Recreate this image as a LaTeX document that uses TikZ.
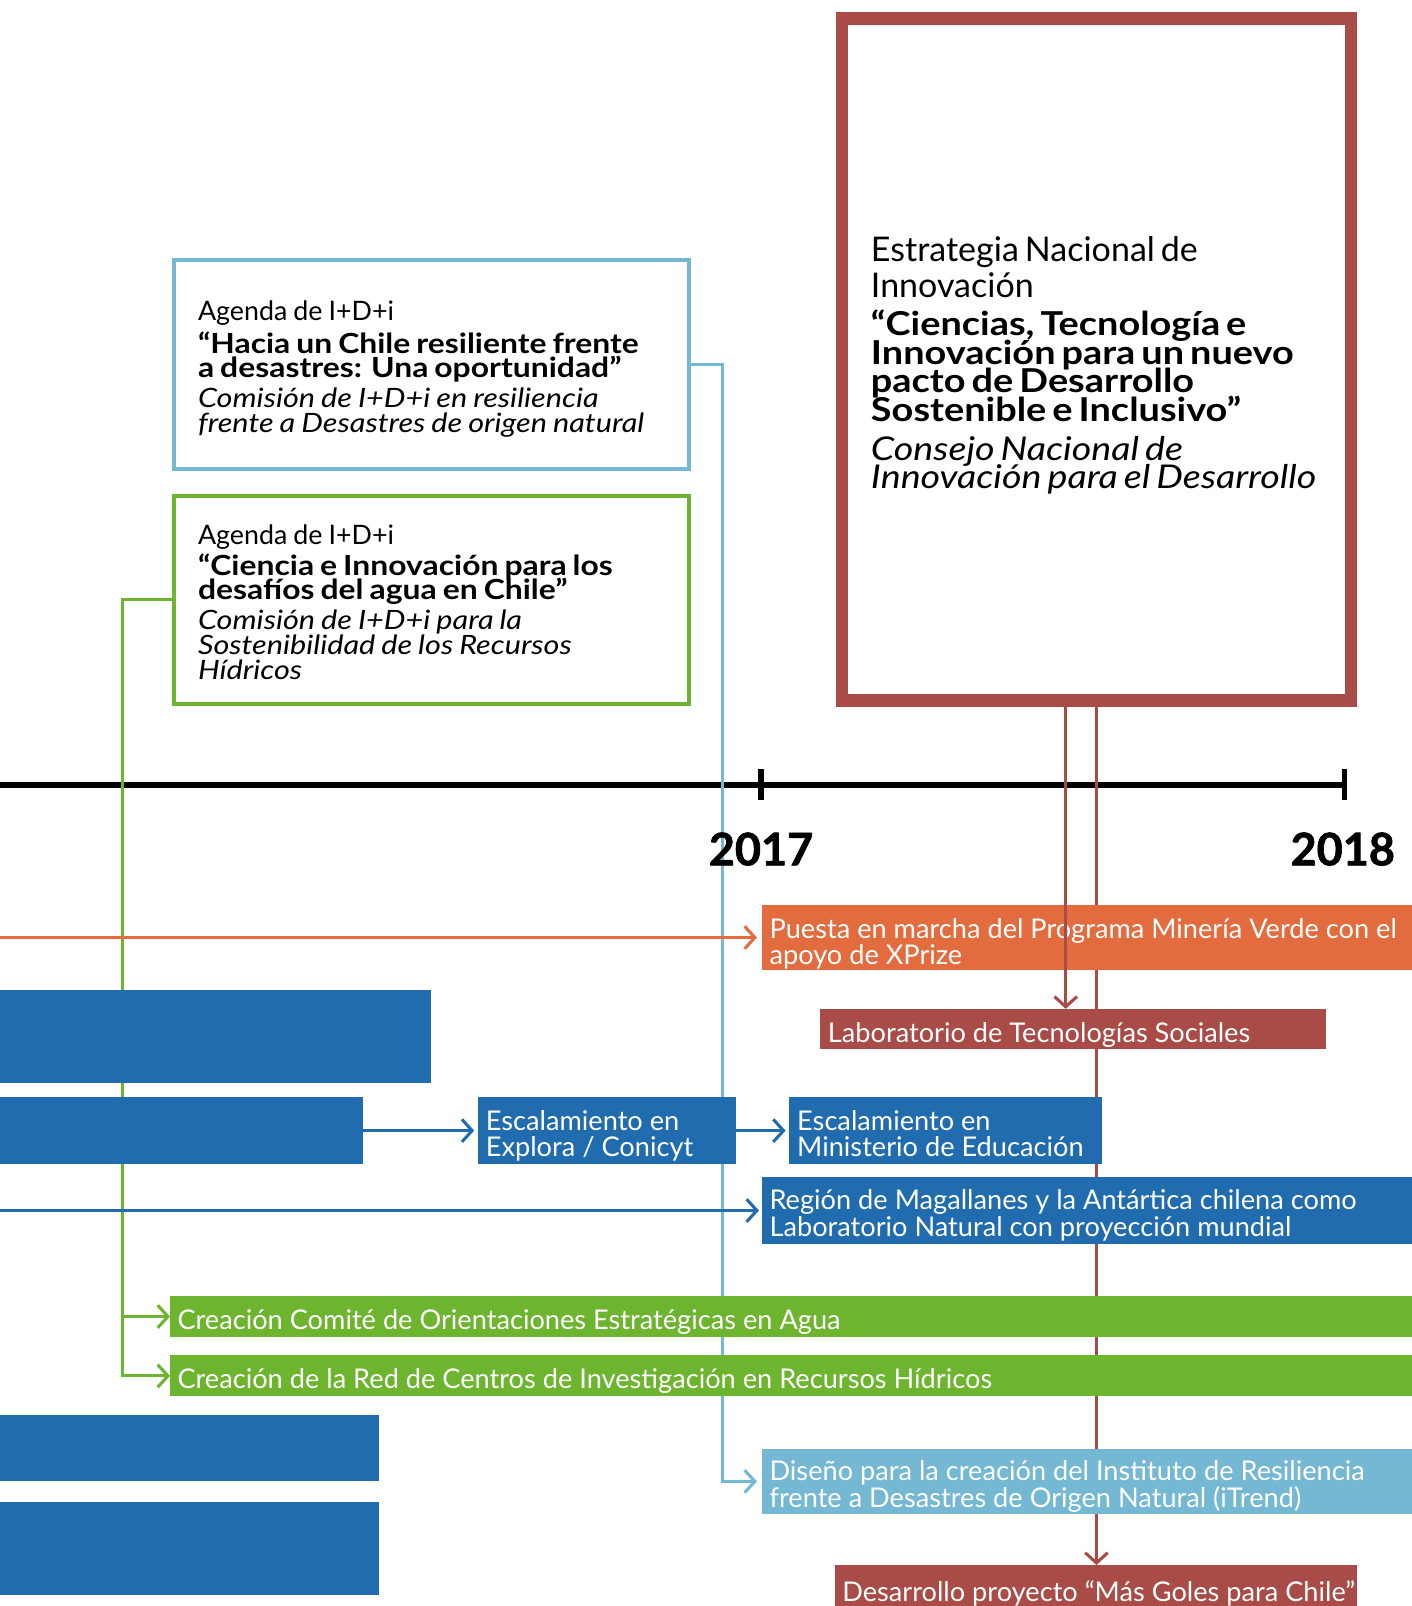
\documentclass[tikz,border=0pt]{standalone}
\usepackage{fontspec}
\setmainfont{Lato}
\newfontfamily\widefont{Lato}[FakeStretch=1.15]
\newfontfamily\yearfont{Lato}[BoldFeatures={FakeBold=1.5}]
\usetikzlibrary{arrows.meta,positioning,backgrounds}
\definecolor{resblue}{RGB}{116,184,212}
\definecolor{aguagreen}{RGB}{109,181,47}
\definecolor{cnidred}{RGB}{169,75,70}
\definecolor{mineorange}{RGB}{227,108,63}
\definecolor{edublue}{RGB}{32,108,174}
\lineskiplimit=-16000pt
\normallineskiplimit=-16000pt
\begin{document}
\begin{tikzpicture}[x=0.02cm, y=-0.02cm, line join=round,
    >={Straight Barb[length=0.2cm,width=0.44cm]},
    conn/.style={->, draw=#1, line width=0.06cm},
    agendaframe/.style={draw=#1, line width=0.08cm, line join=miter, fill=white, inner sep=0pt},
    agenda/.style={anchor=west, inner sep=0pt, text width=10cm, align=left},
    tlbar/.style={fill=#1, inner sep=0pt, anchor=north west},
    bartext/.style={anchor=west, inner sep=0pt, align=left, text=white, font=\fontsize{15.1}{14.8}\selectfont},
    yearlabel/.style={inner sep=0pt, font=\yearfont\bfseries\fontsize{25}{25}\selectfont}]
    \def\upx{0.02cm}
    \useasboundingbox (0,0) rectangle (1378,1568);
    \coordinate (edgeL) at (-10,0);
    % timeline
    \coordinate (t17) at (743,766);
    \coordinate (t18) at (1313,766);
    \node[yearlabel] (y17) at (743,829) {2017};
    \node[yearlabel] (y18) at (1311,829) {2018};
    % agendas
    \node[agendaframe=resblue, minimum width=503*\upx, minimum height=204*\upx] (resil) at (421.5,356) {};
    \node[agenda] (resilT) at ([xshift=25*\upx, yshift=-4.5*\upx]resil.west) {%
        {\fontsize{14.9}{14}\selectfont Agenda de I+D+i\par}\vspace{5.1pt}
        {\widefont\bfseries\fontsize{15.4}{13.1}\selectfont “Hacia un Chile resiliente frente\\a desastres: Una oportunidad”\par}\vspace{3.4pt}
        {\widefont\itshape\fontsize{14.8}{13.7}\selectfont Comisión de I+D+i en resiliencia\\frente a Desastres de origen natural\par}};
    \node[agendaframe=aguagreen, minimum width=503*\upx, minimum height=203*\upx] (agua) at (421.5,585.5) {};
    \node[agenda] (aguaT) at ([xshift=25*\upx, yshift=-2.5*\upx]agua.west) {%
        {\fontsize{14.9}{14}\selectfont Agenda de I+D+i\par}\vspace{4pt}
        {\widefont\bfseries\fontsize{15.4}{13.1}\selectfont “Ciencia e Innovación para los\\desafíos del agua en Chile”\par}\vspace{3.4pt}
        {\widefont\itshape\fontsize{14.8}{13.7}\selectfont Comisión de I+D+i para la\\Sostenibilidad de los Recursos\\Hídricos\par}};
    % estrategia
    \node[agendaframe=cnidred, line width=12*\upx, minimum width=497*\upx, minimum height=666*\upx] (enid) at (1070.5,351) {};
    \node[agenda] (enidT) at ([xshift=34*\upx, yshift=-6*\upx]enid.west) {%
        {\fontsize{18.9}{19.9}\selectfont Estrategia Nacional de\\Innovación\par}\vspace{5.1pt}
        {\widefont\bfseries\fontsize{18.3}{15.9}\selectfont “Ciencias, Tecnología e\\Innovación para un nuevo\\pacto de Desarrollo\\Sostenible e Inclusivo”\par}\vspace{5.7pt}
        {\widefont\itshape\fontsize{18.2}{15.9}\selectfont Consejo Nacional de\\Innovación para el Desarrollo\par}};
    % bars
    \node[tlbar=mineorange, minimum width=660*\upx, minimum height=64*\upx] (xprize) at (744,883) {};
    \node[bartext] (xprizeT) at ([xshift=7*\upx, yshift=-6*\upx]xprize.west) {Puesta en marcha del Programa Minería Verde con el\\apoyo de XPrize};
    \node[tlbar=cnidred, minimum width=494*\upx, minimum height=39*\upx] (labsoc) at (800,985) {};
    \node[bartext] (labsocT) at ([xshift=8*\upx, yshift=-6*\upx]labsoc.west) {Laboratorio de Tecnologías Sociales};
    \node[tlbar=edublue, minimum width=420*\upx, minimum height=91*\upx] (prog1) at (0,966) {};
    \node[tlbar=edublue, minimum width=354*\upx, minimum height=65*\upx] (prog2) at (0,1071) {};
    \node[tlbar=edublue, minimum width=252*\upx, minimum height=65*\upx] (explora) at (466,1071) {};
    \node[bartext] (exploraT) at ([xshift=8*\upx, yshift=-5*\upx]explora.west) {Escalamiento en\\Explora / Conicyt};
    \node[tlbar=edublue, minimum width=306*\upx, minimum height=65*\upx] (mineduc) at (770,1071) {};
    \node[bartext] (mineducT) at ([xshift=8*\upx, yshift=-3*\upx]mineduc.west) {Escalamiento en\\Ministerio de Educación};
    \node[tlbar=edublue, minimum width=660*\upx, minimum height=65*\upx] (magallanes) at (744,1149) {};
    \node[bartext] (magallanesT) at ([xshift=7*\upx, yshift=-5*\upx]magallanes.west) {Región de Magallanes y la Antártica chilena como\\Laboratorio Natural con proyección mundial};
    \node[tlbar=aguagreen, minimum width=1240*\upx, minimum height=40*\upx] (comite) at (166,1265) {};
    \node[bartext] (comiteT) at ([xshift=7*\upx, yshift=-5*\upx]comite.west) {Creación Comité de Orientaciones Estratégicas en Agua};
    \node[tlbar=aguagreen, minimum width=1240*\upx, minimum height=40*\upx] (redcentros) at (166,1323) {};
    \node[bartext] (redcentrosT) at ([xshift=7*\upx, yshift=-5*\upx]redcentros.west) {Creación de la Red de Centros de Investigación en Recursos Hídricos};
    \node[tlbar=edublue, minimum width=370*\upx, minimum height=65*\upx] (prog3) at (0,1381) {};
    \node[tlbar=edublue, minimum width=370*\upx, minimum height=91*\upx] (prog4) at (0,1466) {};
    \node[tlbar=resblue, minimum width=660*\upx, minimum height=64*\upx] (itrend) at (744,1414) {};
    \node[bartext] (itrendT) at ([xshift=7*\upx, yshift=-5*\upx]itrend.west) {Diseño para la creación del Instituto de Resiliencia\\frente a Desastres de Origen Natural (iTrend)};
    \node[tlbar=cnidred, minimum width=510*\upx, minimum height=52*\upx] (goles) at (815,1528) {};
    \node[bartext] (golesT) at ([xshift=7*\upx, yshift=-1*\upx]goles.west) {Desarrollo proyecto “Más Goles para Chile”};
    % lines behind the boxes
    \begin{scope}[on background layer]
        \draw[line width=6*\upx] (t17 -| edgeL) -- (t18);
        \foreach \t in {t17,t18} \draw[line width=5*\upx] (\t) ++(0,-15) -- ++(0,30);
        \draw[conn=resblue, shorten >=5*\upx] (resil.east) -- ++(30,0) |- (itrend.west);
        \draw[conn=aguagreen] (agua.west) -- ++(-48,0) |- (comite.west);
        \draw[conn=aguagreen] (agua.west) -- ++(-48,0) |- (redcentros.west);
        \draw[conn=cnidred] (enid.south) -- (enid.south |- goles.north);
        \draw[conn=mineorange, shorten >=5*\upx] (xprize.west -| edgeL) -- (xprize.west);
        \draw[conn=edublue, shorten >=3*\upx] (magallanes.west -| edgeL) -- (magallanes.west);
        \draw[conn=edublue, shorten >=3*\upx] (prog2.east) -- (explora.west);
        \draw[conn=edublue, shorten >=3*\upx] (explora.east) -- (mineduc.west);
    \end{scope}
    % second line over the orange bar
    \coordinate (enidL) at ([xshift=-30*\upx]enid.south);
    \draw[conn=cnidred] (enidL) -- (enidL |- labsoc.north);
\end{tikzpicture}
\end{document}
